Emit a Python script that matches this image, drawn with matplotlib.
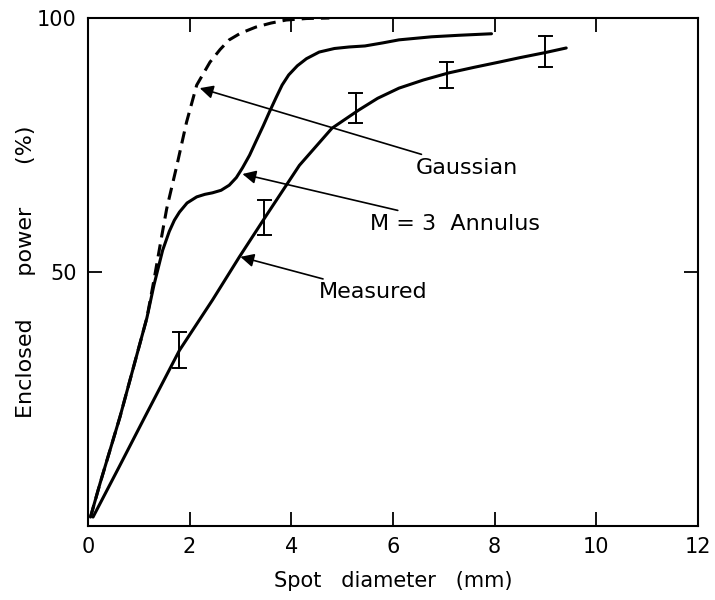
import matplotlib.pyplot as plt

gauss_x = [0.05, 0.24, 0.63, 1.16, 1.3, 1.45, 1.55, 1.75, 1.94, 2.14, 2.4, 2.6, 2.78, 3.0,
           3.3, 3.6, 3.9, 4.3, 4.75]
gauss_y = [1.8, 8.5, 21.5, 41.0, 48.5, 57.0, 62.5, 71.0, 79.5, 86.8, 91.3, 93.8, 95.7, 97.0,
           98.2, 99.0, 99.6, 99.9, 100.0]

annulus_x = [0.05, 0.24, 0.63, 1.16, 1.3, 1.47, 1.6, 1.7, 1.8, 1.95, 2.14, 2.3, 2.45, 2.62, 2.78,
             2.92, 3.04, 3.18, 3.3, 3.45, 3.57, 3.7, 3.82, 3.95, 4.12, 4.3, 4.55, 4.85, 5.14,
             5.45, 5.8, 6.12, 6.76, 7.3, 7.94]
annulus_y = [1.8, 8.5, 21.5, 41.0, 47.5, 54.3, 58.0, 60.2, 61.8, 63.6, 64.8, 65.3, 65.6, 66.1, 67.1,
             68.6, 70.5, 73.0, 75.6, 78.8, 81.5, 84.3, 86.8, 88.8, 90.6, 92.0, 93.3, 94.0, 94.3,
             94.5, 95.1, 95.7, 96.3, 96.6, 96.9]

meas_x = [0.1, 0.61, 1.12, 1.8, 2.45, 2.98, 3.5, 4.16, 4.8, 5.33, 5.7, 6.12, 6.6, 7.1,
          7.6, 8.08, 8.5, 9.0, 9.41]
meas_y = [1.8, 11.6, 21.5, 34.6, 44.5, 53.0, 61.0, 71.0, 78.3, 81.9, 84.2, 86.2, 87.8, 89.2,
          90.3, 91.3, 92.2, 93.2, 94.1]

err_x = [1.8, 3.47, 5.27, 7.06, 9.0]
err_lo = [31.1, 57.3, 79.3, 86.2, 90.4]
err_hi = [38.2, 64.2, 85.2, 91.3, 96.5]

xticks = [0, 2, 4, 6, 8, 10, 12]

plt.rcParams['font.family'] = 'DejaVu Sans'

fig = plt.figure(figsize=(7.15, 6.0), dpi=100)
ax = fig.add_axes([0.123, 0.123, 0.853, 0.847])

line_kw = dict(color='black', lw=2.2, solid_joinstyle='round', solid_capstyle='round')
ax.plot(gauss_x, gauss_y, ls=(0, (4.0, 2.3)), color='black', lw=2.2, dash_capstyle='butt')
ax.plot(annulus_x, annulus_y, **line_kw)
ax.plot(meas_x, meas_y, **line_kw)

for x, lo, hi in zip(err_x, err_lo, err_hi):
    ax.plot([x, x], [lo, hi], color='black', lw=1.4)
    ax.plot([x - 0.13, x + 0.13], [lo, lo], color='black', lw=1.4)
    ax.plot([x - 0.13, x + 0.13], [hi, hi], color='black', lw=1.4)

arrow = dict(arrowstyle='-|>', color='black', lw=1.2, mutation_scale=20, shrinkA=2, shrinkB=0)
ax.annotate('Gaussian', xy=(2.2, 86.2), xytext=(6.45, 70.5), fontsize=16,
            va='center', ha='left', arrowprops=arrow)
ax.annotate('M = 3  Annulus', xy=(3.04, 69.3), xytext=(5.55, 59.5), fontsize=16,
            va='center', ha='left', arrowprops=arrow)
ax.annotate('Measured', xy=(3.0, 53.0), xytext=(4.55, 46.0), fontsize=16,
            va='center', ha='left', arrowprops=arrow)

ax.set_xlim(0, 12)
ax.set_ylim(0, 100)
ax.set_xticks(xticks)
ax.set_xticklabels([str(t) for t in xticks])
ax.set_yticks([0, 50, 100])
ax.set_yticklabels(['', '50', '100'])
ax.tick_params(direction='in', length=10, width=1.3, top=True, right=True, labelsize=15, pad=8)
for s in ax.spines.values():
    s.set_linewidth(1.5)

ax.set_xlabel('Spot   diameter   (mm)', fontsize=15, labelpad=10)
ax.set_ylabel('Enclosed      power      (%)', fontsize=16)
ax.yaxis.set_label_coords(-0.085, 0.5)

fig.savefig('out.png', dpi=100)
